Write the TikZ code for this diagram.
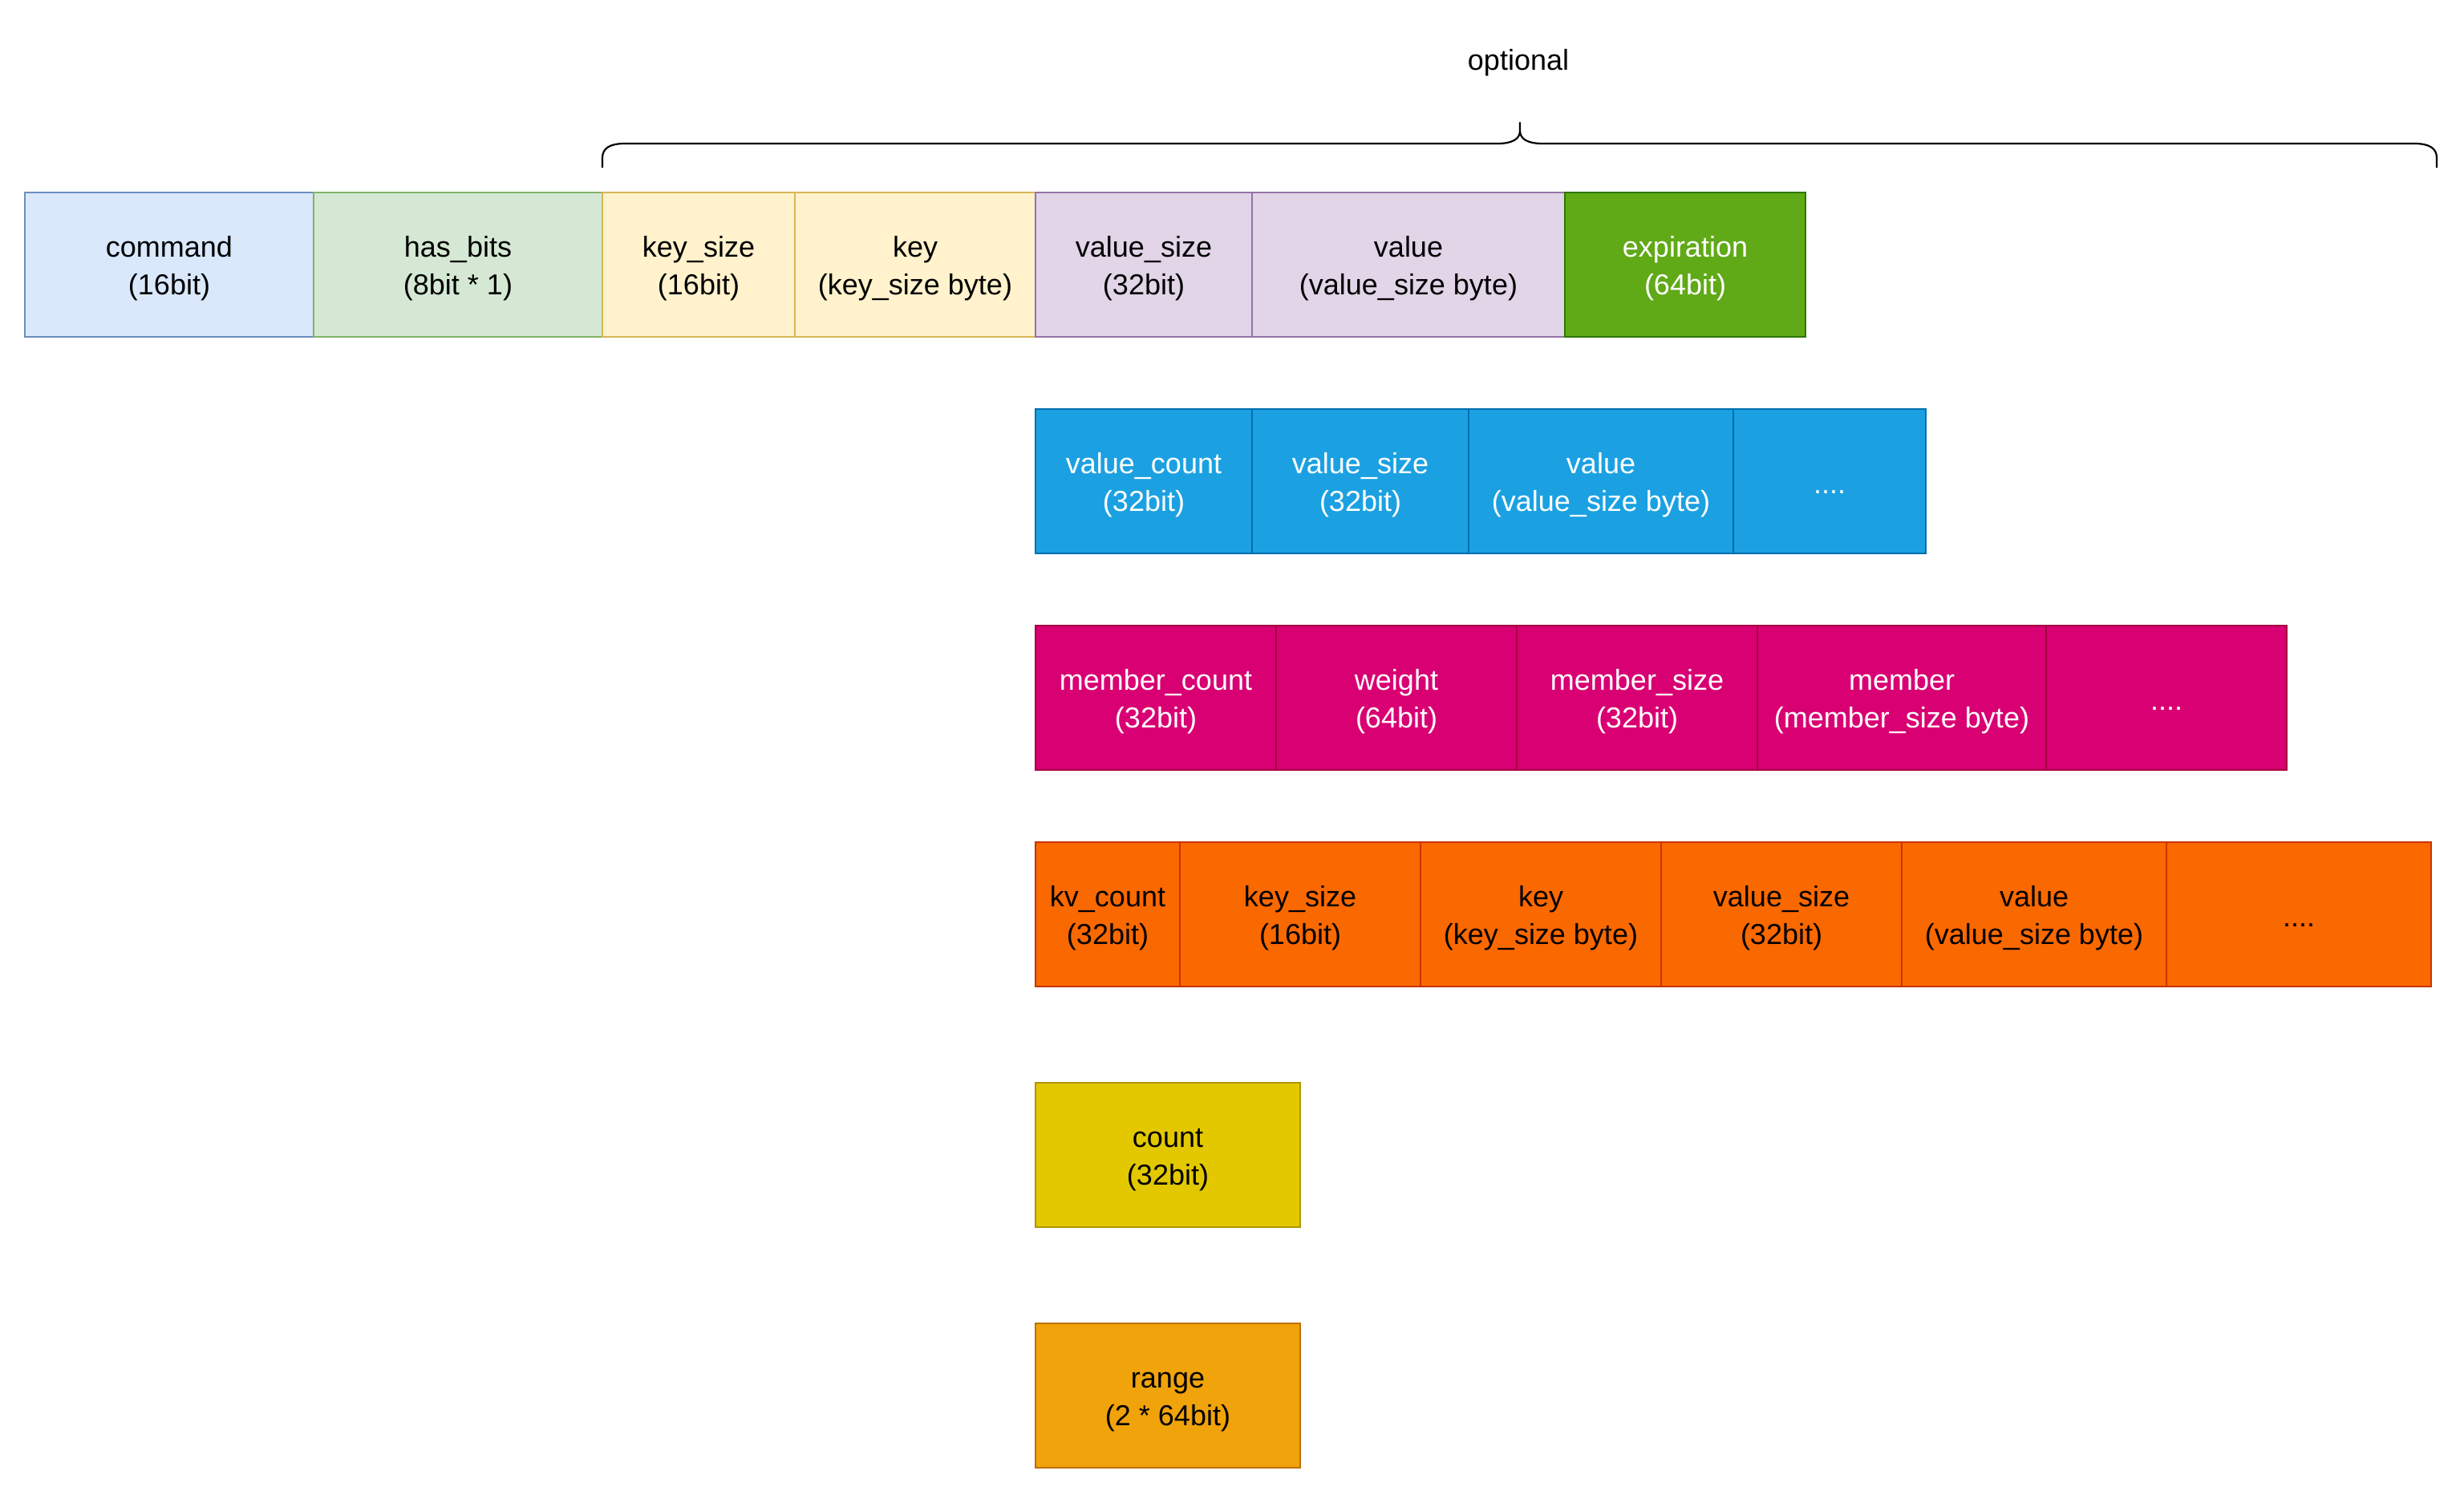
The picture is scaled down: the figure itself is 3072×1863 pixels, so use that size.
\documentclass[tikz,border=0pt]{standalone}
\usepackage{fontspec}
\setmainfont{Liberation Sans}
\newcommand{\fstrut}{\rule[-1.5pt]{0pt}{10.5pt}}
\definecolor{cmdF}{HTML}{DAE8FC}\definecolor{cmdD}{HTML}{6C8EBF}
\definecolor{hbF}{HTML}{D5E8D4}\definecolor{hbD}{HTML}{82B366}
\definecolor{keyF}{HTML}{FFF2CC}\definecolor{keyD}{HTML}{D6B656}
\definecolor{valF}{HTML}{E1D5E7}\definecolor{valD}{HTML}{9673A6}
\definecolor{expF}{HTML}{60A917}\definecolor{expD}{HTML}{2D7600}
\definecolor{bluF}{HTML}{1BA1E2}\definecolor{bluD}{HTML}{006EAF}
\definecolor{magF}{HTML}{D80073}\definecolor{magD}{HTML}{A50040}
\definecolor{orgF}{HTML}{FA6800}\definecolor{orgD}{HTML}{C73500}
\definecolor{cntF}{HTML}{E3C800}\definecolor{cntD}{HTML}{B09500}
\definecolor{rngF}{HTML}{F0A30A}\definecolor{rngD}{HTML}{BD7000}
\begin{document}
\begin{tikzpicture}[x=0.25pt,y=-0.25pt,
  fieldbox/.style={draw, line width=0.5pt, inner sep=0pt, align=center,
    minimum height=45pt, font=\fontsize{9pt}{11.75pt}\selectfont},
  cmdbox/.style={fieldbox, fill=cmdF, draw=cmdD},
  hbbox/.style={fieldbox, fill=hbF, draw=hbD},
  keybox/.style={fieldbox, fill=keyF, draw=keyD},
  valbox/.style={fieldbox, fill=valF, draw=valD},
  expbox/.style={fieldbox, fill=expF, draw=expD, text=white},
  blubox/.style={fieldbox, fill=bluF, draw=bluD, text=white},
  magbox/.style={fieldbox, fill=magF, draw=magD, text=white},
  orgbox/.style={fieldbox, fill=orgF, draw=orgD, text=black},
  cntbox/.style={fieldbox, fill=cntF, draw=cntD, text=black},
  rngbox/.style={fieldbox, fill=rngF, draw=rngD, text=black},
  bracestyle/.style={draw=black, line width=0.55pt, line join=round}]
\fill[white] (0,0) rectangle (3072,1863);
\useasboundingbox (0,0) rectangle (3072,1863);

% row 1
\node[cmdbox, minimum width=90pt] (cmd) at (211,330) {\fstrut command\\\fstrut(16bit)};
\node[hbbox, minimum width=90pt] (hasbits) at (571,330) {\fstrut has\_bits\\\fstrut(8bit * 1)};
\node[keybox, minimum width=60pt] (keysize) at (871,330) {\fstrut key\_size\\\fstrut(16bit)};
\node[keybox, minimum width=75pt] (key) at (1141,330) {\fstrut key\\\fstrut(key\_size byte)};
\node[valbox, minimum width=67.5pt] (valsize) at (1426,330) {\fstrut value\_size\\\fstrut(32bit)};
\node[valbox, minimum width=97.5pt] (val) at (1756,330) {\fstrut value\\\fstrut(value\_size byte)};
\node[expbox, minimum width=75pt] (exp) at (2101,330) {\fstrut expiration\\\fstrut(64bit)};

% row 2
\node[blubox, minimum width=67.5pt] (lcount) at (1426,600) {\fstrut value\_count\\\fstrut(32bit)};
\node[blubox, minimum width=67.5pt] (lsize) at (1696,600) {\fstrut value\_size\\\fstrut(32bit)};
\node[blubox, minimum width=82.5pt] (lval) at (1996,600) {\fstrut value\\\fstrut(value\_size byte)};
\node[blubox, minimum width=60pt] (lmore) at (2281,600) {\fstrut....};

% row 3
\node[magbox, minimum width=75pt] (mcount) at (1441,870) {\fstrut member\_count\\\fstrut(32bit)};
\node[magbox, minimum width=75pt] (mweight) at (1741,870) {\fstrut weight\\\fstrut(64bit)};
\node[magbox, minimum width=75pt] (msize) at (2041,870) {\fstrut member\_size\\\fstrut(32bit)};
\node[magbox, minimum width=90pt] (mmem) at (2371,870) {\fstrut member\\\fstrut(member\_size byte)};
\node[magbox, minimum width=75pt] (mmore) at (2701,870) {\fstrut....};

% row 4
\node[orgbox, minimum width=45pt] (kvcount) at (1381,1140) {\fstrut kv\_count\\\fstrut(32bit)};
\node[orgbox, minimum width=75pt] (kvksize) at (1621,1140) {\fstrut key\_size\\\fstrut(16bit)};
\node[orgbox, minimum width=75pt] (kvkey) at (1921,1140) {\fstrut key\\\fstrut(key\_size byte)};
\node[orgbox, minimum width=75pt] (kvvsize) at (2221,1140) {\fstrut value\_size\\\fstrut(32bit)};
\node[orgbox, minimum width=82.5pt] (kvval) at (2536,1140) {\fstrut value\\\fstrut(value\_size byte)};
\node[orgbox, minimum width=82.5pt] (kvmore) at (2866,1140) {\fstrut....};

% rows 5, 6
\node[cntbox, minimum width=82.5pt] (count) at (1456,1440) {\fstrut count\\\fstrut(32bit)};
\node[rngbox, minimum width=82.5pt] (range) at (1456,1740) {\fstrut range\\\fstrut(2 * 64bit)};

% brace + label
\node[font=\fontsize{9pt}{11.75pt}\selectfont] (optional) at (1893,78) {optional};
\draw[bracestyle] (751,209) -- (751,197) .. controls (751,185) and (760,179) .. (779,179)
  -- (1867,179) .. controls (1886,179) and (1895,173) .. (1895,163) -- (1895,153)
  -- (1895,163) .. controls (1895,173) and (1904,179) .. (1923,179)
  -- (3010,179) .. controls (3029,179) and (3038,185) .. (3038,197) -- (3038,209);
\end{tikzpicture}
\end{document}
